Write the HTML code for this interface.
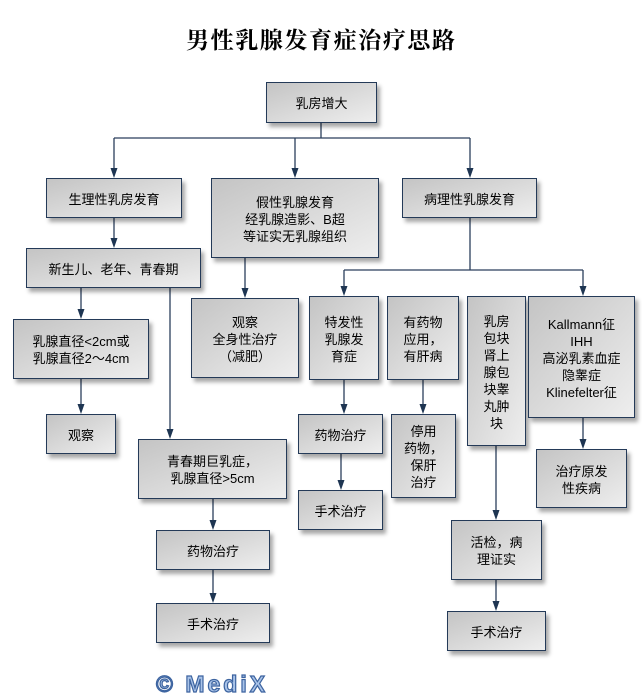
<!DOCTYPE html>
<html><head><meta charset="utf-8">
<style>
html,body{margin:0;padding:0;background:#fff;}
body{width:642px;height:699px;position:relative;overflow:hidden;font-family:"Liberation Sans","Noto Sans CJK SC",sans-serif;}
.t{position:absolute;left:186px;top:25px;width:290px;white-space:nowrap;font-family:"Liberation Serif","Noto Serif CJK SC",serif;font-weight:bold;font-size:23px;letter-spacing:1.6px;line-height:32px;color:#000;}
.b{position:absolute;box-sizing:border-box;border:1.5px solid #243a58;background:linear-gradient(to bottom right,#c4c4c4,#eeeeee);box-shadow:3px 4px 4px rgba(0,0,0,0.35);display:flex;align-items:center;justify-content:center;text-align:center;font-size:13px;line-height:17px;color:#000;padding-top:2px;}
svg{position:absolute;left:0;top:0;}
.logo{position:absolute;left:156px;top:671px;font-family:"Liberation Sans","DejaVu Sans",sans-serif;font-weight:bold;font-size:23px;color:#a9c3e8;-webkit-text-stroke:1.2px #3d64a0;letter-spacing:3px;line-height:26px;}
</style></head><body>
<div class="t">男性乳腺发育症治疗思路</div>

<svg width="642" height="699" viewBox="0 0 642 699">
<g stroke="#2b3f5c" stroke-width="1.3" fill="none">
<line x1="321" y1="123" x2="321" y2="138"/>
<line x1="114" y1="138" x2="470" y2="138"/>
<line x1="114" y1="138" x2="114" y2="170"/>
<line x1="295" y1="138" x2="295" y2="170"/>
<line x1="470" y1="138" x2="470" y2="170"/>
<line x1="114" y1="218" x2="114" y2="240"/>
<line x1="245" y1="258" x2="245" y2="290"/>
<line x1="470" y1="218" x2="470" y2="270"/>
<line x1="344" y1="270" x2="583" y2="270"/>
<line x1="344" y1="270" x2="344" y2="288"/>
<line x1="583" y1="270" x2="583" y2="288"/>
<line x1="81" y1="288" x2="81" y2="311"/>
<line x1="170" y1="288" x2="170" y2="431"/>
<line x1="81" y1="379" x2="81" y2="406"/>
<line x1="344" y1="380" x2="344" y2="406"/>
<line x1="423" y1="380" x2="423" y2="406"/>
<line x1="341" y1="454" x2="341" y2="482"/>
<line x1="583" y1="418" x2="583" y2="441"/>
<line x1="496" y1="446" x2="496" y2="512"/>
<line x1="213" y1="499" x2="213" y2="522"/>
<line x1="213" y1="570" x2="213" y2="595"/>
<line x1="496" y1="580" x2="496" y2="603"/>
</g>
<g fill="#1e3552">
<polygon points="110.5,168 117.5,168 114,178"/>
<polygon points="291.5,168 298.5,168 295,178"/>
<polygon points="466.5,168 473.5,168 470,178"/>
<polygon points="110.5,238 117.5,238 114,248"/>
<polygon points="241.5,288 248.5,288 245,298"/>
<polygon points="340.5,286 347.5,286 344,296"/>
<polygon points="579.5,286 586.5,286 583,296"/>
<polygon points="77.5,309 84.5,309 81,319"/>
<polygon points="166.5,429 173.5,429 170,439"/>
<polygon points="77.5,404 84.5,404 81,414"/>
<polygon points="340.5,404 347.5,404 344,414"/>
<polygon points="419.5,404 426.5,404 423,414"/>
<polygon points="337.5,480 344.5,480 341,490"/>
<polygon points="579.5,439 586.5,439 583,449"/>
<polygon points="492.5,510 499.5,510 496,520"/>
<polygon points="209.5,520 216.5,520 213,530"/>
<polygon points="209.5,593 216.5,593 213,603"/>
<polygon points="492.5,601 499.5,601 496,611"/>
</g>
</svg>

<div class="b" style="left:266px;top:82px;width:111px;height:41px;">乳房增大</div>
<div class="b" style="left:46px;top:178px;width:136px;height:40px;">生理性乳房发育</div>
<div class="b" style="left:211px;top:178px;width:168px;height:80px;">假性乳腺发育<br>经乳腺造影、B超<br>等证实无乳腺组织</div>
<div class="b" style="left:402px;top:178px;width:135px;height:40px;">病理性乳腺发育</div>
<div class="b" style="left:26px;top:248px;width:175px;height:40px;">新生儿、老年、青春期</div>
<div class="b" style="left:13px;top:319px;width:136px;height:60px;">乳腺直径&lt;2cm或<br>乳腺直径2～4cm</div>
<div class="b" style="left:46px;top:414px;width:70px;height:40px;">观察</div>
<div class="b" style="left:191px;top:298px;width:108px;height:80px;">观察<br>全身性治疗<br>（减肥）</div>
<div class="b" style="left:309px;top:296px;width:70px;height:84px;">特发性<br>乳腺发<br>育症</div>
<div class="b" style="left:387px;top:296px;width:72px;height:84px;">有药物<br>应用，<br>有肝病</div>
<div class="b" style="left:467px;top:296px;width:59px;height:150px;">乳房<br>包块<br>肾上<br>腺包<br>块睾<br>丸肿<br>块</div>
<div class="b" style="left:528px;top:296px;width:107px;height:122px;">Kallmann征<br>IHH<br>高泌乳素血症<br>隐睾症<br>Klinefelter征</div>
<div class="b" style="left:298px;top:414px;width:85px;height:40px;">药物治疗</div>
<div class="b" style="left:391px;top:414px;width:65px;height:84px;">停用<br>药物，<br>保肝<br>治疗</div>
<div class="b" style="left:536px;top:449px;width:91px;height:59px;">治疗原发<br>性疾病</div>
<div class="b" style="left:138px;top:439px;width:149px;height:60px;">青春期巨乳症，<br>乳腺直径&gt;5cm</div>
<div class="b" style="left:298px;top:490px;width:85px;height:40px;">手术治疗</div>
<div class="b" style="left:156px;top:530px;width:114px;height:40px;">药物治疗</div>
<div class="b" style="left:156px;top:603px;width:114px;height:40px;">手术治疗</div>
<div class="b" style="left:451px;top:520px;width:91px;height:60px;">活检，病<br>理证实</div>
<div class="b" style="left:447px;top:611px;width:99px;height:40px;">手术治疗</div>

<div class="logo">© MediX</div>
</body></html>
